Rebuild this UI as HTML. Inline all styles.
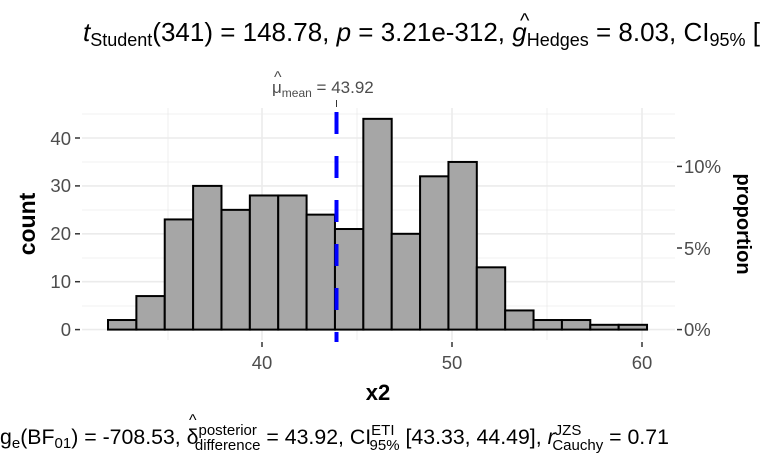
<!DOCTYPE html>
<html><head><meta charset="utf-8"><style>
html,body{margin:0;padding:0;background:#fff;}
svg{display:block;font-family:"Liberation Sans",sans-serif;}
</style></head><body>
<svg width="768" height="474" viewBox="0 0 768 474" xmlns="http://www.w3.org/2000/svg">
<g stroke="#ebebeb" stroke-width="0.8">
<line x1="82" x2="675" y1="306" y2="306"/><line x1="82" x2="675" y1="258" y2="258"/>
<line x1="82" x2="675" y1="210" y2="210"/><line x1="82" x2="675" y1="162" y2="162"/>
<line x1="82" x2="675" y1="114" y2="114"/>
<line x1="168" x2="168" y1="108" y2="340"/><line x1="357" x2="357" y1="108" y2="340"/><line x1="547" x2="547" y1="108" y2="340"/>
</g>
<g stroke="#ebebeb" stroke-width="1.6">
<line x1="82" x2="675" y1="329.6" y2="329.6"/><line x1="82" x2="675" y1="281.7" y2="281.7"/>
<line x1="82" x2="675" y1="233.8" y2="233.8"/><line x1="82" x2="675" y1="185.9" y2="185.9"/>
<line x1="82" x2="675" y1="138" y2="138"/>
<line x1="262" x2="262" y1="108" y2="340"/><line x1="452" x2="452" y1="108" y2="340"/><line x1="642" x2="642" y1="108" y2="340"/>
</g>
<g fill="#a6a6a6" stroke="#000" stroke-width="2">
<rect x="108" y="320.02" width="28.37" height="9.58"/>
<rect x="136.37" y="296.07" width="28.37" height="33.53"/>
<rect x="164.74" y="219.43" width="28.37" height="110.17"/>
<rect x="193.11" y="185.9" width="28.37" height="143.7"/>
<rect x="221.48" y="209.85" width="28.37" height="119.75"/>
<rect x="249.85" y="195.48" width="28.37" height="134.12"/>
<rect x="278.22" y="195.48" width="28.37" height="134.12"/>
<rect x="306.59" y="214.64" width="28.37" height="114.96"/>
<rect x="334.96" y="229.01" width="28.37" height="100.59"/>
<rect x="363.33" y="118.84" width="28.37" height="210.76"/>
<rect x="391.7" y="233.8" width="28.37" height="95.8"/>
<rect x="420.07" y="176.32" width="28.37" height="153.28"/>
<rect x="448.44" y="161.95" width="28.37" height="167.65"/>
<rect x="476.81" y="267.33" width="28.37" height="62.27"/>
<rect x="505.18" y="310.44" width="28.37" height="19.16"/>
<rect x="533.55" y="320.02" width="28.37" height="9.58"/>
<rect x="561.92" y="320.02" width="28.37" height="9.58"/>
<rect x="590.29" y="324.81" width="28.37" height="4.79"/>
<rect x="618.66" y="324.81" width="28.37" height="4.79"/>
</g>
<line x1="336.5" x2="336.5" y1="108" y2="342" stroke="#0000ff" stroke-width="4" stroke-dasharray="22,22" stroke-dashoffset="-4"/>
<line x1="336.5" x2="336.5" y1="100" y2="107" stroke="#333" stroke-width="1"/>
<text x="274" y="82" font-size="16" fill="#4d4d4d">^</text>
<text x="272" y="93" font-size="17" fill="#4d4d4d">μ<tspan font-size="12" dy="4">mean</tspan><tspan dy="-4"> = 43.92</tspan></text>
<g fill="#4d4d4d" font-size="18.5" text-anchor="end">
<text x="71" y="336">0</text><text x="71" y="288">10</text><text x="71" y="240">20</text><text x="71" y="192">30</text><text x="71" y="145">40</text>
</g>
<g stroke="#333" stroke-width="1.5">
<line x1="75" x2="80" y1="329.6" y2="329.6"/><line x1="75" x2="80" y1="281.7" y2="281.7"/><line x1="75" x2="80" y1="233.8" y2="233.8"/><line x1="75" x2="80" y1="185.9" y2="185.9"/><line x1="75" x2="80" y1="138" y2="138"/>
<line x1="677" x2="682" y1="329.6" y2="329.6"/><line x1="677" x2="682" y1="248" y2="248"/><line x1="677" x2="682" y1="166.4" y2="166.4"/>
<line x1="262" x2="262" y1="342" y2="347"/><line x1="452" x2="452" y1="342" y2="347"/><line x1="642" x2="642" y1="342" y2="347"/>
</g>
<g fill="#4d4d4d" font-size="18.5">
<text x="684" y="336">0%</text><text x="684" y="255">5%</text><text x="684" y="173">10%</text>
</g>
<g fill="#4d4d4d" font-size="18.5" text-anchor="middle">
<text x="262" y="369">40</text><text x="452" y="369">50</text><text x="642" y="369">60</text>
</g>
<text x="378" y="400" font-size="22" font-weight="bold" text-anchor="middle">x2</text>
<text transform="translate(35,224) rotate(-90)" font-size="23" font-weight="bold" text-anchor="middle">count</text>
<text transform="translate(737,224) rotate(90)" font-size="20" font-weight="bold" text-anchor="middle">proportion</text>
<text x="83" y="41" font-size="26"><tspan font-style="italic">t</tspan><tspan font-size="18" dy="5">Student</tspan><tspan dy="-5">(341) = 148.78, </tspan><tspan font-style="italic">p</tspan> = 3.21e-312, <tspan font-style="italic">g</tspan><tspan font-size="18" dy="5">Hedges</tspan><tspan dy="-5"> = 8.03, CI</tspan><tspan font-size="18" dy="5">95%</tspan><tspan dy="-5"> [</tspan></text>
<text x="520" y="27" font-size="20">^</text>
<text x="0" y="444" font-size="21.3">g<tspan font-size="15" dy="4">e</tspan><tspan dy="-4">(BF</tspan><tspan font-size="15" dy="4">01</tspan><tspan dy="-4">) = -708.53, δ</tspan><tspan font-size="15" dy="-9">posterior</tspan><tspan font-size="15" dx="-62" dy="15">difference</tspan><tspan dy="-6"> = 43.92, CI</tspan><tspan font-size="15" dy="-9">ETI</tspan><tspan font-size="15" dx="-25" dy="15">95%</tspan><tspan dy="-6"> [43.33, 44.49], </tspan><tspan font-style="italic">r</tspan><tspan font-size="15" dy="-9">JZS</tspan><tspan font-size="15" dx="-29" dy="15">Cauchy</tspan><tspan dy="-6"> = 0.71</tspan></text>
<text x="189" y="425" font-size="16">^</text>
</svg>
</body></html>
